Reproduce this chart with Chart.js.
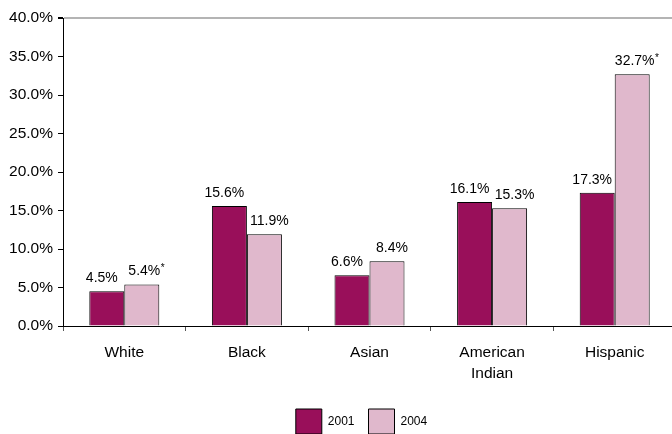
<!DOCTYPE html>
<html>
<head>
<meta charset="utf-8">
<script src="https://cdn.jsdelivr.net/npm/chart.js"></script>
<style>
  html, body { margin: 0; padding: 0; background: #fff; overflow: hidden; }
  #chart { display: block; }
</style>
</head>
<body>
<canvas id="chart" width="676" height="434"></canvas>
<script>
// Rates by group, 2001 vs 2004
const groups = ['White', 'Black', 'Asian', ['American', 'Indian'], 'Hispanic']
const years = ['2001', '2004']
const rates_2001 = [4.5, 15.6, 6.6, 16.1, 17.3]
const rates_2004 = [5.4, 11.9, 8.4, 15.3, 32.7]
// asterisk marks a significant change
const starred_2001 = [false, false, false, false, false]
const starred_2004 = [true, false, false, false, true]
const y_ticks = [0, 5, 10, 15, 20, 25, 30, 35, 40]

const dark = '#990f5a'
const light = '#e0b8cc'

Chart.defaults.font.family = '"Liberation Sans", Arial, sans-serif'
Chart.defaults.color = '#000'

// value labels above each bar, with a small raised star when flagged
const bar_labels = {
    id: 'bar_labels',
    afterDatasetsDraw(chart) {
        const ctx = chart.ctx
        const stars = [starred_2001, starred_2004]
        const nudge = [-5, 5]
        ctx.save()
        ctx.fillStyle = '#000'
        chart.data.datasets.forEach((ds, i) => {
            chart.getDatasetMeta(i).data.forEach((bar, j) => {
                const text = ds.data[j].toFixed(1) + '%'
                ctx.font = '14px "Liberation Sans", Arial, sans-serif'
                const w = ctx.measureText(text).width
                const star_w = stars[i][j] ? 5 : 0
                const x0 = bar.x + nudge[i] - (w + star_w) / 2
                const y = bar.y - 9
                ctx.textAlign = 'left'
                ctx.textBaseline = 'alphabetic'
                ctx.fillText(text, x0, y)
                if (stars[i][j]) {
                    ctx.font = '10px "Liberation Sans", Arial, sans-serif'
                    ctx.fillText('*', x0 + w + 0.5, y - 4)
                }
            })
        })
        ctx.restore()
    }
}

// nudge the legend row a bit to the right of the canvas centre
const legend_shift = {
    id: 'legend_shift',
    afterLayout(chart) {
        if (chart.legend) chart.legend.left += 47
    }
}

new Chart(document.getElementById('chart'), {
    type: 'bar',
    data: {
        labels: groups,
        datasets: [
            {
                label: years[0],
                data: rates_2001,
                backgroundColor: dark,
                borderColor: '#000',
                borderWidth: 1,
            },
            {
                label: years[1],
                data: rates_2004,
                backgroundColor: light,
                borderColor: '#000',
                borderWidth: 1,
            }
        ]
    },
    options: {
        responsive: false,
        animation: false,
        layout: { padding: { top: 18, left: 0, right: 0, bottom: -10 } },
        datasets: {
            bar: { barPercentage: 1, categoryPercentage: 0.571 }
        },
        scales: {
            x: {
                afterFit: s => { s.height = 69 },
                grid: {
                    offset: true,
                    drawOnChartArea: false,
                    tickLength: 5,
                    color: '#555',
                },
                border: { color: '#000', width: 1 },
                ticks: {
                    padding: 12,
                    font: { size: 15.5, lineHeight: 1.3 },
                    color: '#000',
                },
            },
            y: {
                min: 0,
                max: 40,
                afterFit: s => { s.width = 63 },
                afterBuildTicks: s => { s.ticks = y_ticks.map(v => ({ value: v })) },
                grid: {
                    color: c => (c.tick && c.tick.value === 40) ? '#b4b4b4' : 'rgba(0,0,0,0)',
                    lineWidth: c => (c.tick && c.tick.value === 40) ? 2 : 1,
                    tickColor: '#000',
                    tickLength: 5,
                },
                border: { color: '#000', width: 1 },
                ticks: {
                    padding: 5,
                    font: { size: 15.5 },
                    color: '#000',
                    callback: v => v.toFixed(1) + '%',
                },
            }
        },
        plugins: {
            legend: {
                position: 'bottom',
                labels: {
                    boxWidth: 26,
                    boxHeight: 25,
                    padding: 14,
                    font: { size: 12 },
                    color: '#000',
                }
            },
            tooltip: { enabled: false },
        }
    },
    plugins: [bar_labels, legend_shift]
})
</script>
</body>
</html>
